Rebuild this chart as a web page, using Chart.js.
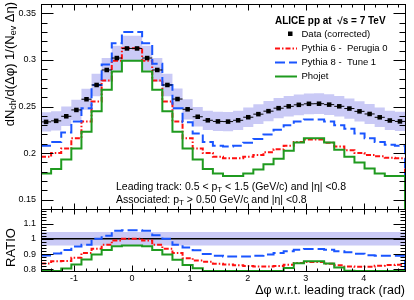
<!DOCTYPE html>
<html><head><meta charset="utf-8">
<script src="https://cdn.jsdelivr.net/npm/chart.js@4/dist/chart.umd.min.js"></script>
<style>
html,body{margin:0;padding:0;background:#fff;}
#wrap{position:relative;width:414px;height:300px;background:#fff;}
canvas{position:absolute;left:0;top:0;}
</style></head><body>
<div id="wrap"><canvas id="main" width="414" height="300"></canvas><canvas id="ratio" width="414" height="300"></canvas></div>
<script>
// ---------------- data ----------------
const phiMin = -Math.PI / 2, phiMax = 3 * Math.PI / 2, nBins = 36;
const dataCorrected = [0.2335,0.2346,0.2395,0.2463,0.2578,0.2731,0.2892,0.3020,0.3123,0.3123,0.3020,0.2892,0.2731,0.2580,0.2470,0.2390,0.2352,0.2340,
                       0.2338,0.2352,0.2385,0.2418,0.2450,0.2482,0.2502,0.2518,0.2529,0.2530,0.2520,0.2502,0.2478,0.2448,0.2420,0.2384,0.2350,0.2340];
const pythia6 = [0.196,0.200,0.205,0.216,0.234,0.2555,0.278,0.299,0.3125,0.3125,0.299,0.278,0.2555,0.234,0.216,0.205,0.200,0.196,
                 0.1945,0.1945,0.196,0.198,0.201,0.204,0.208,0.212,0.2145,0.2145,0.211,0.207,0.203,0.200,0.198,0.1965,0.195,0.1945];
const pythia8 = [0.208,0.212,0.222,0.234,0.248,0.273,0.295,0.318,0.330,0.330,0.318,0.296,0.273,0.248,0.233,0.221,0.212,0.208,
                 0.207,0.208,0.211,0.215,0.220,0.225,0.230,0.234,0.236,0.236,0.234,0.230,0.226,0.221,0.216,0.212,0.209,0.208];
const phojet = [0.178,0.183,0.193,0.205,0.223,0.245,0.268,0.2875,0.299,0.299,0.2875,0.268,0.245,0.223,0.205,0.193,0.183,0.178,
                0.1755,0.1755,0.178,0.1825,0.188,0.194,0.2025,0.2115,0.216,0.216,0.2115,0.2035,0.196,0.190,0.1835,0.178,0.1755,0.1755];
const ratioPythia6 = [0.839,0.853,0.856,0.877,0.908,0.936,0.961,0.990,1.001,1.001,0.990,0.961,0.936,0.907,0.874,0.858,0.850,0.838,
                      0.832,0.827,0.822,0.819,0.820,0.822,0.831,0.842,0.848,0.848,0.837,0.827,0.819,0.817,0.818,0.824,0.830,0.831];
const ratioPythia8 = [0.891,0.904,0.927,0.950,0.962,1.000,1.020,1.053,1.057,1.057,1.053,1.024,1.000,0.961,0.943,0.925,0.901,0.889,
                      0.885,0.884,0.885,0.889,0.898,0.907,0.919,0.929,0.933,0.933,0.929,0.919,0.912,0.903,0.893,0.889,0.889,0.889];
const ratioPhojet = [0.762,0.780,0.806,0.832,0.865,0.897,0.927,0.952,0.957,0.957,0.952,0.927,0.897,0.864,0.830,0.808,0.778,0.761,
                     0.751,0.746,0.746,0.755,0.767,0.782,0.809,0.840,0.854,0.854,0.839,0.813,0.791,0.776,0.758,0.747,0.747,0.750];
const sysRel = 0.044;
const mainYTicks = [0.15, 0.2, 0.25, 0.3, 0.35];
const mainYTickLabels = ['0.15', '0.2', '0.25', '0.3', '0.35'];
const ratioYTicks = [0.8, 0.9, 1, 1.1];
const ratioYTickLabels = ['0.8', '0.9', '1', '1.1'];
const xTicks = [-1, 0, 1, 2, 3, 4];
const xTickLabels = ['-1', '0', '1', '2', '3', '4'];
const seriesLabels = ['Data (corrected)', 'Pythia 6 -  Perugia 0', 'Pythia 8 -  Tune 1', 'Phojet'];

// ---------------- helpers ----------------
const FONT = '"Liberation Sans", Arial, Helvetica, sans-serif';
Chart.defaults.font.family = FONT;
Chart.defaults.color = '#000';
const mainYMin = 0.14, mainYMax = 0.36, ratioYMin = 0.79, ratioYMax = 1.195;
const binW = (phiMax - phiMin) / nBins;
const edges = Array.from({length: nBins + 1}, (_, i) => phiMin + i * binW);
const centers = Array.from({length: nBins}, (_, i) => phiMin + (i + 0.5) * binW);
const colP6 = '#ff1010', colP8 = '#1a55ff', colPh = '#1f9a1f', bandColor = 'rgb(202,202,246)';
const dashP6 = [5, 2, 1.5, 2], dashP8 = [10, 4];

function histPts(vals, opts = {}) {
  const f = opts.floor;
  const pts = vals.map((v, i) => ({x: edges[i], y: f !== undefined ? Math.max(v, f) : v}));
  pts.push({x: edges[nBins], y: pts[pts.length - 1].y});
  if (opts.close !== undefined) pts.push({x: edges[nBins], y: opts.close});
  return pts;
}
const px = v => Math.round(v) + 0.5;

function drawFrame(ctx, a) {
  ctx.save(); ctx.strokeStyle = '#000'; ctx.lineWidth = 1;
  ctx.strokeRect(px(a.left), px(a.top), Math.round(a.right) - Math.round(a.left), Math.round(a.bottom) - Math.round(a.top));
  ctx.restore();
}
function drawYTicks(ctx, s, a, vals, len) {
  for (const v of vals) {
    const y = px(s.getPixelForValue(v));
    ctx.moveTo(px(a.left), y); ctx.lineTo(px(a.left) + len, y);
    ctx.moveTo(px(a.right), y); ctx.lineTo(px(a.right) - len, y);
  }
}
function drawXTicks(ctx, s, a, vals, lenTop, lenBot) {
  for (const v of vals) {
    const x = px(s.getPixelForValue(v));
    if (lenTop) { ctx.moveTo(x, px(a.top)); ctx.lineTo(x, px(a.top) + lenTop); }
    if (lenBot) { ctx.moveTo(x, px(a.bottom)); ctx.lineTo(x, px(a.bottom) - lenBot); }
  }
}
const xMinor = []; for (let k = -7; k <= 23; k++) if (k % 5 !== 0) xMinor.push(k / 5);
const mainYMinor = []; for (let k = 14; k <= 36; k++) if (k % 5 !== 0) mainYMinor.push(k / 100);
const ratioYMinor = []; for (let k = 40; k <= 59; k++) if (k % 5 !== 0) ratioYMinor.push(k * 0.02);

function richText(ctx, parts, x, y, size, align, subShift) {
  const sub = Math.round(size * 0.72);
  const shift = subShift !== undefined ? subShift : size * 0.28;
  let total = 0;
  const ws = parts.map(p => { ctx.font = `${p[1] ? sub : size}px ${FONT}`; const w = ctx.measureText(p[0]).width; total += w; return w; });
  let cx = align === 'right' ? x - total : (align === 'center' ? x - total / 2 : x);
  parts.forEach((p, i) => {
    ctx.font = `${p[1] ? sub : size}px ${FONT}`;
    ctx.fillText(p[0], cx, p[1] ? y + shift : y);
    cx += ws[i];
  });
}

// ---------------- main panel ----------------
const mainDecor = {
  id: 'mainDecor',
  beforeDatasetsDraw(chart) { drawFrame(chart.ctx, chart.chartArea); },
  afterDatasetsDraw(chart) {
    const ctx = chart.ctx, a = chart.chartArea, xs = chart.scales.x, ys = chart.scales.y;
    ctx.save();
    ctx.strokeStyle = '#000'; ctx.lineWidth = 1;
    ctx.beginPath();
    ctx.moveTo(px(a.left), px(a.top)); ctx.lineTo(px(a.left), px(a.bottom));
    drawYTicks(ctx, ys, a, mainYTicks, 12);
    drawYTicks(ctx, ys, a, mainYMinor, 6);
    drawXTicks(ctx, xs, a, xTicks, 6, 6);
    drawXTicks(ctx, xs, a, xMinor, 3, 3);
    ctx.stroke();
    ctx.fillStyle = '#000'; ctx.textBaseline = 'alphabetic';
    // y title
    ctx.save(); ctx.translate(13.5, 2); ctx.rotate(-Math.PI / 2);
    richText(ctx, [['dN', 0], ['ch', 1], ['/d(\u0394\u03c6) 1/(N', 0], ['ev', 1], [' \u0394\u03b7)', 0]], 0, 0, 13, 'right', 2.5);
    ctx.restore();
    // legend
    ctx.font = `bold 10px ${FONT}`; ctx.textAlign = 'left';
    ctx.fillText('ALICE pp at  \u221As = 7 TeV', 275, 24);
    ctx.fillRect(288, 31.5, 4.5, 4.5);
    ctx.font = `9.5px ${FONT}`;
    ctx.fillText(seriesLabels[0], 301.5, 36.5);
    ctx.fillText(seriesLabels[1], 301.5, 51);
    ctx.fillText(seriesLabels[2], 301.5, 65.3);
    ctx.fillText(seriesLabels[3], 301.5, 78.8);
    const sample = (y, col, dash) => { ctx.beginPath(); ctx.strokeStyle = col; ctx.lineWidth = 2; ctx.setLineDash(dash); ctx.moveTo(275, y); ctx.lineTo(297, y); ctx.stroke(); };
    sample(48.5, colP6, dashP6); sample(62.5, colP8, dashP8); sample(76.5, colPh, []);
    ctx.setLineDash([]);
    // annotations
    ctx.fillStyle = '#000';
    richText(ctx, [['Leading track: 0.5 < p', 0], ['T', 1], [' < 1.5 (GeV/c) and |\u03b7| <0.8', 0]], 116, 189.5, 10.5, 'left');
    richText(ctx, [['Associated: p', 0], ['T', 1], [' > 0.50 GeV/c and |\u03b7| <0.8', 0]], 116, 202.5, 10.5, 'left');
    ctx.restore();
  }
};

const xErrPts = [];
dataCorrected.forEach((v, i) => { xErrPts.push({x: edges[i], y: v}, {x: edges[i + 1], y: v}, {x: edges[i + 1], y: null}); });

const histDs = (label, pts, col, dash, order) => ({label, data: pts, stepped: 'before', borderColor: col, borderWidth: 2, borderDash: dash, pointRadius: 0, pointHoverRadius: 0, fill: false, order});

new Chart(document.getElementById('main'), {
  type: 'line',
  data: {datasets: [
    {label: 'sysLow', data: histPts(dataCorrected.map(v => v * (1 - sysRel))), stepped: 'before', borderWidth: 0, pointRadius: 0, fill: false, order: 10},
    {label: 'sysHigh', data: histPts(dataCorrected.map(v => v * (1 + sysRel))), stepped: 'before', borderWidth: 0, pointRadius: 0, fill: '-1', backgroundColor: bandColor, order: 9},
    histDs(seriesLabels[1], histPts(pythia6, {close: 0}), colP6, dashP6, 6),
    histDs(seriesLabels[2], histPts(pythia8, {close: 0}), colP8, dashP8, 5),
    histDs(seriesLabels[3], histPts(phojet, {close: 0}), colPh, [], 4),
    {label: 'xerr', data: xErrPts, borderColor: '#000', borderWidth: 1, pointRadius: 0, spanGaps: false, fill: false, order: 2},
    {label: seriesLabels[0], data: centers.map((c, i) => ({x: c, y: dataCorrected[i]})), showLine: false, pointStyle: 'rect', pointRadius: 3.2, backgroundColor: '#000', borderColor: '#000', borderWidth: 0, order: 1}
  ]},
  options: {
    responsive: false, animation: false, devicePixelRatio: 1,
    layout: {padding: {left: 0, right: 9, top: 4, bottom: 91}},
    plugins: {legend: {display: false}, tooltip: {enabled: false}},
    scales: {
      x: {type: 'linear', min: phiMin, max: phiMax, display: false},
      y: {type: 'linear', min: mainYMin, max: mainYMax,
          afterFit(s) { s.width = 41; s.paddingTop = 0; s.paddingBottom = 0; },
          afterBuildTicks(s) { s.ticks = mainYTicks.map(v => ({value: v})); },
          ticks: {callback: (v, i) => mainYTickLabels[i], padding: 5, font: {size: 9}, color: '#000'},
          grid: {display: false, drawTicks: false}, border: {display: false}}
    }
  },
  plugins: [mainDecor]
});

// ---------------- ratio panel ----------------
const ratioDecor = {
  id: 'ratioDecor',
  beforeDatasetsDraw(chart) { drawFrame(chart.ctx, chart.chartArea); },
  afterDatasetsDraw(chart) {
    const ctx = chart.ctx, a = chart.chartArea, xs = chart.scales.x, ys = chart.scales.y;
    ctx.save();
    ctx.strokeStyle = '#000'; ctx.lineWidth = 1;
    ctx.beginPath();
    ctx.moveTo(px(a.left), px(a.top)); ctx.lineTo(px(a.left), px(a.bottom));
    drawYTicks(ctx, ys, a, ratioYTicks, 12);
    drawYTicks(ctx, ys, a, ratioYMinor, 5);
    drawXTicks(ctx, xs, a, xTicks, 5, 6);
    drawXTicks(ctx, xs, a, xMinor, 3, 3);
    ctx.stroke();
    ctx.fillStyle = '#000'; ctx.textBaseline = 'alphabetic';
    ctx.save(); ctx.translate(15, 247.5); ctx.rotate(-Math.PI / 2);
    ctx.font = `13px ${FONT}`; ctx.textAlign = 'center';
    ctx.fillText('RATIO', 0, 0);
    ctx.restore();
    richText(ctx, [['\u0394\u03c6 w.r.t. leading track (rad)', 0]], 405, 294, 12.5, 'right');
    ctx.restore();
  }
};

new Chart(document.getElementById('ratio'), {
  type: 'line',
  data: {datasets: [
    {label: 'sysLow', data: [{x: phiMin, y: 1 - sysRel}, {x: phiMax, y: 1 - sysRel}], borderWidth: 0, pointRadius: 0, fill: false, order: 10},
    {label: 'sysHigh', data: [{x: phiMin, y: 1 + sysRel}, {x: phiMax, y: 1 + sysRel}], borderWidth: 0, pointRadius: 0, fill: '-1', backgroundColor: bandColor, order: 9},
    {label: 'unity', data: [{x: phiMin, y: 1}, {x: phiMax, y: 1}], borderColor: '#000', borderWidth: 1.5, pointRadius: 0, fill: false, order: 8},
    histDs(seriesLabels[1], histPts(ratioPythia6, {floor: ratioYMin, close: 0}), colP6, dashP6, 6),
    histDs(seriesLabels[2], histPts(ratioPythia8, {floor: ratioYMin, close: 0}), colP8, dashP8, 5),
    histDs(seriesLabels[3], histPts(ratioPhojet, {floor: ratioYMin, close: 0}), colPh, [], 4)
  ]},
  options: {
    responsive: false, animation: false, devicePixelRatio: 1,
    layout: {padding: {left: 0, right: 9, top: 209, bottom: 0}},
    plugins: {legend: {display: false}, tooltip: {enabled: false}},
    scales: {
      x: {type: 'linear', min: phiMin, max: phiMax,
          afterFit(s) { s.height = 29; s.paddingLeft = 0; s.paddingRight = 0; },
          afterBuildTicks(s) { s.ticks = xTicks.map(v => ({value: v})); },
          ticks: {callback: (v, i) => xTickLabels[i], padding: 2, font: {size: 9}, color: '#000', maxRotation: 0, autoSkip: false},
          grid: {display: false, drawTicks: false}, border: {display: false}},
      y: {type: 'linear', min: ratioYMin, max: ratioYMax,
          afterFit(s) { s.width = 41; s.paddingTop = 0; s.paddingBottom = 0; },
          afterBuildTicks(s) { s.ticks = ratioYTicks.map(v => ({value: v})); },
          ticks: {callback: (v, i) => ratioYTickLabels[i], padding: 5, font: {size: 9}, color: '#000'},
          grid: {display: false, drawTicks: false}, border: {display: false}}
    }
  },
  plugins: [ratioDecor]
});
</script>
</body></html>
